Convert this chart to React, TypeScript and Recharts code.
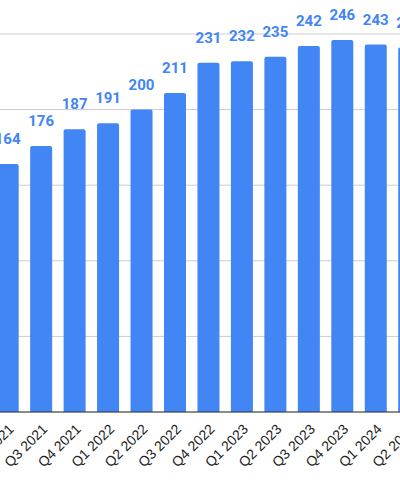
import { BarChart, Bar, XAxis, YAxis, CartesianGrid, LabelList } from 'recharts';

const quarters = [
  'Q2 2021', 'Q3 2021', 'Q4 2021', 'Q1 2022', 'Q2 2022', 'Q3 2022', 'Q4 2022',
  'Q1 2023', 'Q2 2023', 'Q3 2023', 'Q4 2023', 'Q1 2024', 'Q2 2024',
];
const values = [164, 176, 187, 191, 200, 211, 231, 232, 235, 242, 246, 243, 241];
const yTicks = [0, 50, 100, 150, 200, 250];

const data = quarters.map((q, i) => ({ quarter: q, value: values[i] }));

const BLUE = '#4285F4';

export default function App() {
  return (
    <div style={{ position: 'fixed', left: 0, top: 0, width: 400, height: 498, overflow: 'hidden', background: '#fff' }}>
      {/* chart is wider than the view and shifted left, like the cropped source */}
      <div style={{ position: 'absolute', left: -9, top: 0 }}>
        <BarChart
          width={435}
          height={498}
          data={data}
          margin={{ top: 34, right: 0, bottom: 0, left: 0 }}
          barCategoryGap="17%"
        >
          <CartesianGrid vertical={false} stroke="#cccccc" />
          <YAxis hide domain={[0, 250]} ticks={yTicks} />
          <XAxis
            dataKey="quarter"
            interval={0}
            height={86}
            angle={-45}
            textAnchor="end"
            tickLine={false}
            tickMargin={5}
            axisLine={{ stroke: '#333333' }}
            tick={{ fill: '#222222', fontSize: 14, fontFamily: 'Liberation Sans, Arial, sans-serif' }}
          />
          <Bar dataKey="value" fill={BLUE} radius={[2, 2, 0, 0]} isAnimationActive={false}>
            <LabelList
              dataKey="value"
              position="top"
              offset={20}
              fill={BLUE}
              style={{ fontFamily: 'Roboto, sans-serif', fontWeight: 700, fontSize: 15 }}
            />
          </Bar>
        </BarChart>
      </div>
    </div>
  );
}
